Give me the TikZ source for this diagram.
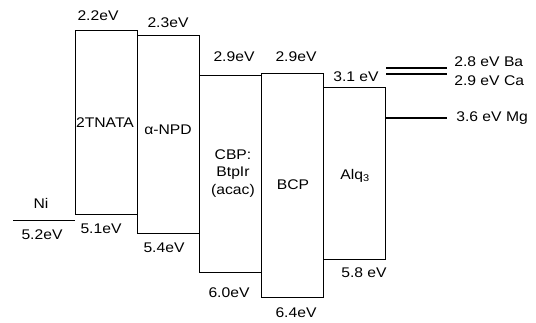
\documentclass[tikz,border=0pt]{standalone}
\usepackage{fontspec}
\setmainfont{Liberation Sans}
\begin{document}
\begin{tikzpicture}[x=1pt, y=-1pt, font=\fontsize{14}{16}\selectfont,
  lvl/.style={line width=0.8pt},
  metal/.style={line width=2pt},
  lbl/.style={inner sep=1pt, xscale=1.12}]
\useasboundingbox (0,0) rectangle (536,322);
\pgfmathsetmacro{\bw}{62} % width of one layer

% layers (LUMO top, HOMO bottom)
\draw[lvl] (75,30) rectangle +(\bw,184); % 2TNATA
\draw[lvl] (137,35) rectangle +(\bw,198); % a-NPD
\draw[lvl] (199,75) rectangle +(\bw,197); % CBP
\draw[lvl] (261,73) rectangle +(\bw,224); % BCP
\draw[lvl] (323,87) rectangle +(\bw,172); % Alq3

% anode
\draw[lvl] (13,220) -- (75,220); % Ni

% cathodes
\coordinate (ba0) at (386,68); \coordinate (ba1) at (447,68);
\coordinate (ca0) at (386,74); \coordinate (ca1) at (447,74);
\coordinate (mg0) at (385,118); \coordinate (mg1) at (447,118);
\draw[metal] (ba0) -- (ba1);
\draw[metal] (ca0) -- (ca1);
\draw[line width=1.5pt] (mg0) -- (mg1);

% layer names
\node[lbl] (tnata) at (105,123) {2TNATA};
\node[lbl] (npd) at (168,130) {α-NPD};
\node[lbl] (cbp) at (233,155) {CBP:};
\node[lbl] (btp) at (233,173) {BtpIr};
\node[lbl] (acac) at (233,191) {(acac)};
\node[lbl] (bcp) at (293,185) {BCP};
\node[lbl] (alq) at (355,176) {Alq\textsubscript{3}};
\node[lbl] (ni) at (41,203) {Ni};

% LUMO values
\node[lbl] (l1) at (98,16) {2.2eV};
\node[lbl] (l2) at (168,23) {2.3eV};
\node[lbl] (l3) at (234,57) {2.9eV};
\node[lbl] (l4) at (296,57) {2.9eV};
\node[lbl] (l5) at (356,77) {3.1 eV};

% HOMO values
\node[lbl] (h0) at (42,235) {5.2eV};
\node[lbl] (h1) at (101,229) {5.1eV};
\node[lbl] (h2) at (164,248) {5.4eV};
\node[lbl] (h3) at (229,293) {6.0eV};
\node[lbl] (h4) at (296,313) {6.4eV};
\node[lbl] (h5) at (364,273) {5.8 eV};

% work functions
\node[lbl, anchor=west] (ba) at (453,62) {2.8 eV Ba};
\node[lbl, anchor=west] (ca) at (453,81) {2.9 eV Ca};
\node[lbl, anchor=west] (mg) at (455,118) {3.6 eV Mg};
\end{tikzpicture}
\end{document}
